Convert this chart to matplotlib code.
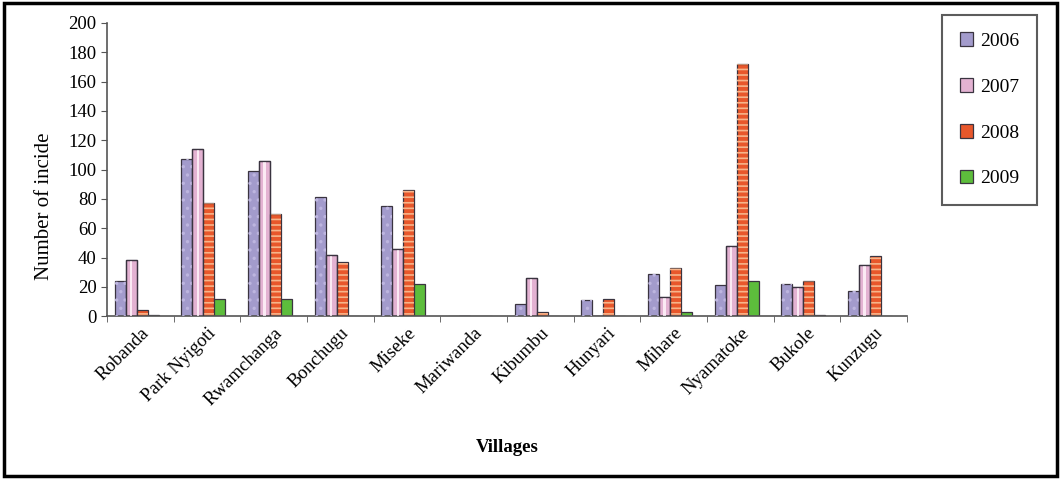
import numpy as np
import matplotlib.pyplot as plt
from matplotlib.patches import Rectangle

plt.rcParams['font.family'] = ['Liberation Serif', 'DejaVu Serif']
plt.rcParams['hatch.linewidth'] = 1.2

# Villages surveyed
villages = ["Robanda", "Park Nyigoti", "Rwamchanga", "Bonchugu", "Miseke",
            "Mariwanda", "Kibumbu", "Hunyari", "Mihare", "Nyamatoke",
            "Bukole", "Kunzugu"]

years = ["2006", "2007", "2008", "2009"]

# Number of incidents per village and year
inc_2006 = [24, 107, 99, 81, 75, 0, 8, 11, 29, 21, 22, 17]
inc_2007 = [38, 114, 106, 42, 46, 0, 26, 0, 13, 48, 20, 35]
inc_2008 = [4, 77, 70, 37, 86, 0, 2.5, 12, 33, 172, 24, 41]
inc_2009 = [0.5, 12, 12, 0, 22, 0, 0, 0, 2.5, 24, 0.5, 0]

series = [inc_2006, inc_2007, inc_2008, inc_2009]
fills = ["#a39bcc", "#e3b2d2", "#e8572b", "#5dbd3c"]
hatches = ["..", None, "---", None]
hatch_cols = ["#bdb5df", None, "#f6b48a", None]

fig = plt.figure(figsize=(10.61, 4.79), dpi=100)
ax = fig.add_axes([0.1008, 0.340, 0.7540, 0.612])

x = np.arange(len(villages))
w = 0.165
shift = -0.0525

for j, vals in enumerate(series):
    pos = x + shift + (j - 1.5) * w
    ax.bar(pos, vals, width=w, color=fills[j], edgecolor="#3a3440",
           linewidth=0.9, label=years[j], zorder=2)
    if hatches[j]:
        ax.bar(pos, vals, width=w, color="none", edgecolor=hatch_cols[j],
               linewidth=0, hatch=hatches[j], zorder=3)
    if j == 1:
        # light centre stripe on the 2007 bars
        ax.bar(pos, vals, width=0.035, color="#fbeaf4", linewidth=0, zorder=3)
        ax.bar(pos, vals, width=w, color="none", edgecolor="#3a3440",
               linewidth=0.9, zorder=4)

ax.set_xlim(-0.5, len(villages) - 0.5)
ax.set_ylim(0, 200)
ax.set_yticks(np.arange(0, 201, 20))
ax.tick_params(axis="y", labelsize=13.5, length=4, direction="out", color="#555")

ax.set_xticks(x)
ax.set_xticklabels(villages, rotation=45, ha="right", rotation_mode="anchor",
                   fontsize=13.5)
ax.tick_params(axis="x", which="major", length=0, pad=6)
ax.set_xticks(np.arange(-0.5, len(villages)), minor=True)
ax.tick_params(axis="x", which="minor", length=4, color="#555")

for s in ["top", "right"]:
    ax.spines[s].set_visible(False)
for s in ["left", "bottom"]:
    ax.spines[s].set_color("#555")
    ax.spines[s].set_linewidth(1.2)

ax.set_ylabel("Number of incide", fontsize=15)
ax.yaxis.set_label_coords(-0.066, 0.375)
ax.set_xlabel("Villages", fontsize=13.5, fontweight="bold")
ax.xaxis.set_label_coords(0.5, -0.42)

leg = fig.legend(loc="upper left", bbox_to_anchor=(0.888, 0.969),
                 frameon=True, fancybox=False, fontsize=14,
                 handlelength=0.7, handleheight=0.7, handletextpad=0.35,
                 labelspacing=1.45, borderpad=0.9, borderaxespad=0)
leg.get_frame().set_edgecolor("#333")
leg.get_frame().set_linewidth(1.5)

# outer frame
fig.patches.append(Rectangle((0.004, 0.006), 0.992, 0.988, transform=fig.transFigure,
                             fill=False, edgecolor="black", linewidth=2.5))

fig.savefig("out.png", dpi=100)
